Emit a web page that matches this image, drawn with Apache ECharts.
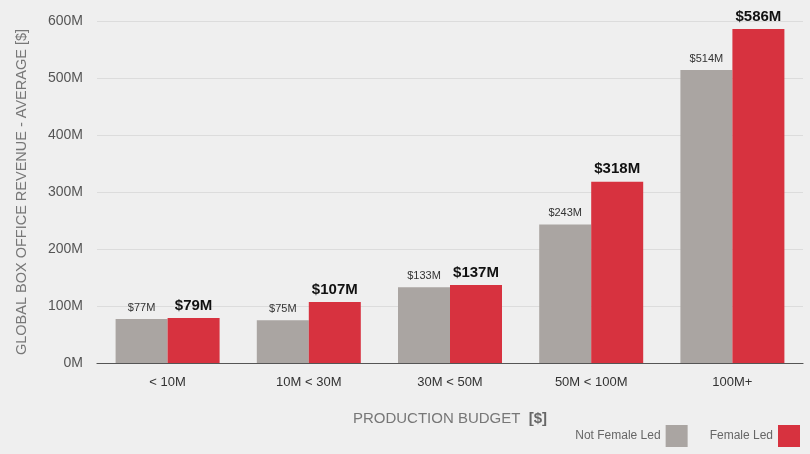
<!DOCTYPE html>
<html><head><meta charset="utf-8">
<script src="https://cdn.jsdelivr.net/npm/echarts@6/dist/echarts.min.js"></script>
<style>html,body{margin:0;padding:0;background:#efefef;}#c{width:810px;height:454px;}</style>
</head><body><div id="c"></div>
<script>
const categories = ['< 10M', '10M < 30M', '30M < 50M', '50M < 100M', '100M+'];
const notFemaleLed = [77, 75, 133, 243, 514];
const femaleLed = [79, 107, 137, 318, 586];
const yTicks = [0, 100, 200, 300, 400, 500, 600];

const FONT = '"Liberation Sans", Arial, Helvetica, sans-serif';
const chart = echarts.init(document.getElementById('c'), null, {renderer: 'canvas'});
chart.setOption({
  backgroundColor: '#efefef',
  textStyle: {fontFamily: FONT},
  animation: false,
  grid: {left: 97, right: 7, top: 21, bottom: 91},
  legend: {
    right: 5, bottom: 2, align: 'right', itemWidth: 22, itemHeight: 22, itemGap: 22,
    icon: 'rect',
    textStyle: {color: '#666', fontSize: 12, fontFamily: FONT},
    data: ['Not Female Led', 'Female Led']
  },
  xAxis: {
    type: 'category', data: categories,
    axisLine: {lineStyle: {color: '#555', width: 1.2}},
    axisTick: {show: false},
    axisLabel: {color: '#333', fontSize: 13, margin: 13, fontFamily: FONT},
    name: 'PRODUCTION BUDGET  {b|[$]}', nameLocation: 'middle', nameGap: 48,
    nameTextStyle: {color: '#777', fontSize: 15, fontFamily: FONT,
      rich: {b: {color: '#666', fontSize: 15, fontWeight: 'bold', fontFamily: FONT}}}
  },
  yAxis: {
    type: 'value', min: yTicks[0], max: yTicks[yTicks.length - 1], interval: 100,
    axisLine: {show: false}, axisTick: {show: false},
    splitLine: {lineStyle: {color: '#dcdcdc', width: 1}},
    axisLabel: {color: '#555', fontSize: 14, margin: 14, fontFamily: FONT,
      formatter: v => v + 'M'},
    name: 'GLOBAL BOX OFFICE REVENUE - AVERAGE [$]', nameLocation: 'middle', nameGap: 68,
    nameTextStyle: {color: '#777', fontSize: 14.5, fontFamily: FONT}
  },
  series: [
    {
      name: 'Not Female Led', type: 'bar', data: notFemaleLed, barWidth: 52, barGap: '0%',
      itemStyle: {color: '#aaa5a2'},
      label: {show: true, position: 'top', distance: 6, color: '#333', fontSize: 11,
        fontFamily: FONT, formatter: p => '$' + p.value + 'M'}
    },
    {
      name: 'Female Led', type: 'bar', data: femaleLed, barWidth: 52,
      itemStyle: {color: '#d7323f'},
      label: {show: true, position: 'top', distance: 5, color: '#111', fontSize: 15,
        fontWeight: 'bold', fontFamily: FONT, formatter: p => '$' + p.value + 'M'}
    }
  ]
});
</script></body></html>
